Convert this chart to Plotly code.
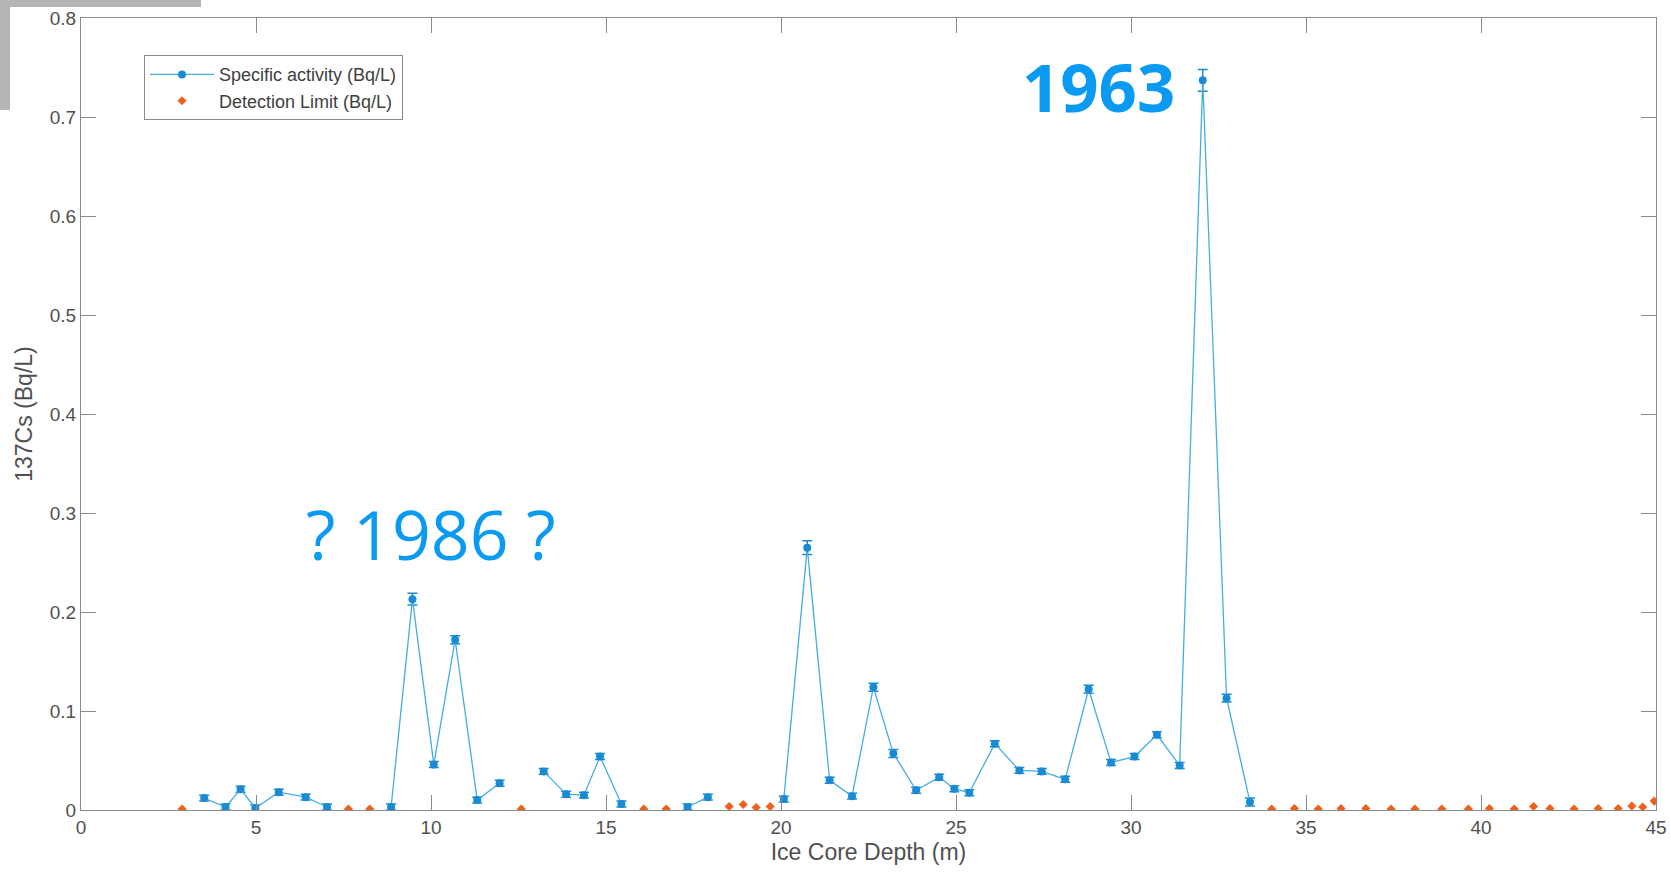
import plotly.graph_objects as go

# Specific activity (Bq/L) measured in ice-core samples
depth = [3.52, 4.13, 4.56, 4.98, 5.65, 6.42, 7.03, 8.86, 9.47, 10.08, 10.69, 11.32, 11.96,
         13.22, 13.86, 14.37, 14.83, 15.44, 17.33, 17.91, 20.08, 20.75, 21.39, 22.03, 22.64,
         23.21, 23.86, 24.52, 24.95, 25.38, 26.11, 26.81, 27.45, 28.12, 28.79, 29.43, 30.10,
         30.74, 31.39, 32.05, 32.73, 33.40]
activity = [0.012, 0.003, 0.021, 0.002, 0.018, 0.013, 0.003, 0.003, 0.213, 0.046, 0.172, 0.010, 0.027,
            0.039, 0.016, 0.015, 0.054, 0.006, 0.003, 0.013, 0.011, 0.265, 0.030, 0.014, 0.124,
            0.057, 0.020, 0.033, 0.0215, 0.0175, 0.067, 0.040, 0.039, 0.031, 0.122, 0.048, 0.054,
            0.076, 0.045, 0.737, 0.113, 0.008]
activity_err = [0.003, 0.003, 0.003, 0.003, 0.003, 0.003, 0.003, 0.003, 0.006, 0.003, 0.004, 0.003, 0.003,
                0.003, 0.003, 0.003, 0.003, 0.003, 0.003, 0.003, 0.003, 0.007, 0.003, 0.003, 0.004,
                0.004, 0.003, 0.003, 0.003, 0.003, 0.003, 0.003, 0.003, 0.003, 0.004, 0.003, 0.003,
                0.003, 0.003, 0.011, 0.004, 0.004]
# the line is interrupted after these depths (samples below detection follow)
gap_after = [7.03, 11.96, 15.44, 17.91]

# Detection limit (Bq/L) for samples below detection
dl_depth = [2.89, 7.64, 8.25, 12.58, 16.08, 16.72, 18.52, 18.92, 19.29, 19.69,
            34.02, 34.67, 35.35, 36.00, 36.71, 37.43, 38.11, 38.88, 39.64, 40.24,
            40.95, 41.50, 41.97, 42.66, 43.35, 43.92, 44.31, 44.62, 44.95]
dl_value = [0.001, 0.001, 0.001, 0.001, 0.001, 0.001, 0.0036, 0.0055, 0.0025, 0.0035,
            0.001, 0.0015, 0.001, 0.0015, 0.0015, 0.001, 0.001, 0.001, 0.001, 0.0015,
            0.001, 0.0035, 0.0015, 0.001, 0.0015, 0.0015, 0.004, 0.003, 0.009]

x_ticks = [0, 5, 10, 15, 20, 25, 30, 35, 40, 45]
y_ticks = [0, 0.1, 0.2, 0.3, 0.4, 0.5, 0.6, 0.7, 0.8]
y_tick_text = ["0", "0.1", "0.2", "0.3", "0.4", "0.5", "0.6", "0.7", "0.8"]

# build line with gaps
xs, ys, es = [], [], []
for d, a, e in zip(depth, activity, activity_err):
    xs.append(d); ys.append(a); es.append(e)
    if d in gap_after:
        xs.append(None); ys.append(None); es.append(None)

BLUE = "#1a8bd2"
fig = go.Figure()
fig.add_trace(go.Scatter(
    x=xs, y=ys, mode="lines+markers",
    name="Specific activity (Bq/L)",
    connectgaps=False,
    line=dict(color="#45ade0", width=1.3),
    marker=dict(color=BLUE, size=8, symbol="circle"),
    error_y=dict(type="data", array=es, visible=True,
                 color=BLUE, thickness=1.5, width=5),
))
fig.add_trace(go.Scatter(
    x=dl_depth, y=dl_value, mode="markers",
    name="Detection Limit (Bq/L)",
    marker=dict(color="#f0601c", size=7, symbol="diamond"),
))

fig.add_annotation(x=29.06, y=0.731, text="<b>1963</b>", showarrow=False,
                   font=dict(family="Open Sans", size=67, color="#0a9af2"),
                   xanchor="center", yanchor="middle")
fig.add_annotation(x=10.0, y=0.279, text="? 1986 ?", showarrow=False,
                   font=dict(family="Open Sans", size=68, color="#0a9af2"),
                   xanchor="center", yanchor="middle")

axis_common = dict(showline=True, linecolor="#8a8a8a", linewidth=1.2, mirror="ticks",
                   ticks="inside", ticklen=15, tickcolor="#8a8a8a", tickwidth=1,
                   showgrid=False, zeroline=False, automargin=False,
                   tickfont=dict(family="Liberation Sans", size=19, color="#505050"))

fig.update_xaxes(range=[0, 45], tickvals=x_ticks,
                 title=dict(text="Ice Core Depth (m)", standoff=6,
                            font=dict(family="Liberation Sans", size=23, color="#505050")),
                 **axis_common)
fig.update_yaxes(range=[0, 0.8], tickvals=y_ticks, ticktext=y_tick_text,
                 title=dict(text="137Cs (Bq/L)", standoff=10,
                            font=dict(family="Liberation Sans", size=23, color="#505050")),
                 **axis_common)

# grey border artefact at top-left corner of the reference image
fig.add_shape(type="rect", xref="paper", yref="paper", x0=-0.0514, x1=0.0762, y0=1.0139, y1=1.03,
              fillcolor="#b5b5b5", line=dict(width=0), layer="above")
fig.add_shape(type="rect", xref="paper", yref="paper", x0=-0.0525, x1=-0.0451, y0=0.8838, y1=1.03,
              fillcolor="#b5b5b5", line=dict(width=0), layer="above")

fig.update_layout(
    width=1671, height=877,
    margin=dict(l=81, r=15, t=18, b=67),
    paper_bgcolor="white", plot_bgcolor="white",
    legend=dict(x=0.04, y=0.953, xanchor="left", yanchor="top",
                bgcolor="white", bordercolor="#8a8a8a", borderwidth=1,
                font=dict(family="Liberation Sans", size=18, color="#404040"),
                itemwidth=64, tracegroupgap=0),
    showlegend=True,
)

fig.write_html("out.html",
               config={"displayModeBar": False},
               post_script="document.body.style.margin='0';document.body.style.overflow='hidden';")
